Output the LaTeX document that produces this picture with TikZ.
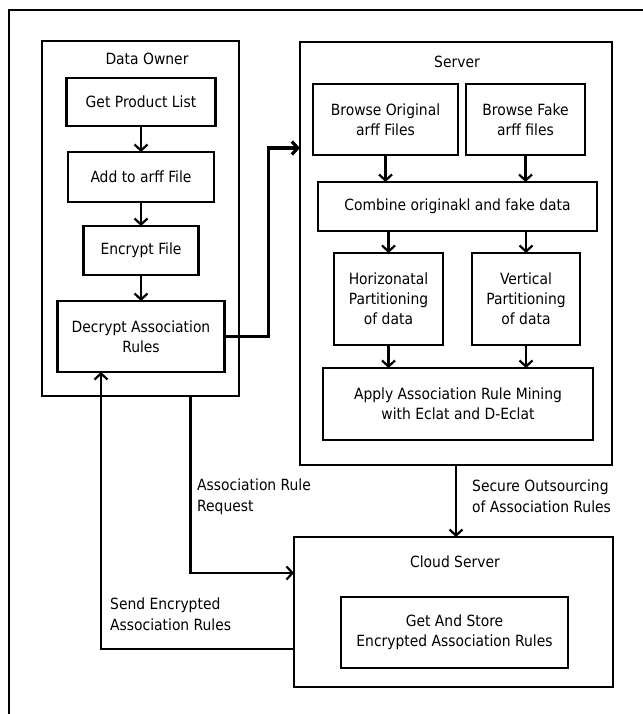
\documentclass[tikz,border=0pt]{standalone}
\usepackage{fontspec}
\setmainfont{DejaVu Sans Condensed}
\usetikzlibrary{positioning,arrows.meta}

\begin{document}
\begin{tikzpicture}[
    x=1bp, y=-1bp,
    node distance=26bp and 8bp,
    font=\fontsize{15.5}{20}\selectfont,
 mybox/.style = {
        draw, rectangle, align=center, line width=2.6bp,
        inner sep=2bp, outer sep=0pt},
 mygroup/.style = {
        draw, rectangle, line width=2.6bp, inner sep=0pt, outer sep=0pt},
 mytitle/.style = {inner sep=0pt},
 mylabel/.style = {
        align=left, inner sep=0pt, anchor=north west,
        font=\fontsize{15.5}{21}\selectfont},
     arrow/.style = {line width=2.2bp,-{Straight Barb[length=6bp,width=13bp]}}
                    ]
\useasboundingbox (0,0) rectangle (643,714);
% the frame round the picture
\draw[line width=2.2bp] (9,740) -- (9,10) -- (670,10);
% the data owner
\node (owner) [mygroup, minimum width=197bp, minimum height=355bp] at (140.5,218.5) {};
\node (towner) [mytitle] at (147,59) {Data Owner};
\node (n1) [mybox, minimum width=149bp, minimum height=48bp] at (141,102) {Get Product List};
\node (n2) [mybox, minimum width=146bp, minimum height=50bp, below=of n1] {Add to arff File};
\node (n3) [mybox, minimum width=115bp, minimum height=49bp, below=24bp of n2] {Encrypt File};
\node (n4) [mybox, minimum width=167bp, minimum height=71bp, below=of n3]
                                    {Decrypt Association\\Rules};
\draw[arrow] (n1) -- (n2);
\draw[arrow] (n2) -- (n3);
\draw[arrow] (n3) -- (n4);
% the server
\node (srv) [mygroup, minimum width=312bp, minimum height=423bp] at (456,253.5) {};
\node (tsrv) [mytitle] at (457,62) {Server};
\node (s1) [mybox, minimum width=145bp, minimum height=71bp] at (385.5,119.5)
                                    {Browse Original\\arff Files};
\node (s2) [mybox, minimum width=119bp, minimum height=71bp, right=of s1]
                                    {Browse Fake\\arff files};
\node (s3) [mybox, minimum width=279bp, minimum height=49bp] at (457.5,206.5)
                                    {Combine originakl and fake data};
\node (s4) [mybox, minimum width=109bp, minimum height=92bp] at (388.5,299)
                                    {Horizonatal\\Partitioning\\of data};
\node (s5) [mybox, minimum width=108bp, minimum height=92bp] at (526,299)
                                    {Vertical\\Partitioning\\of data};
\node (s6) [mybox, minimum width=270bp, minimum height=72bp] at (458,404)
                                    {Apply Association Rule Mining\\with Eclat and D-Eclat};
\draw[arrow] (s1) -- (s1 |- s3.north);
\draw[arrow] (s2) -- (s2 |- s3.north);
\draw[arrow] (s4 |- s3.south) -- (s4);
\draw[arrow] (s5 |- s3.south) -- (s5);
\draw[arrow] (s4) -- (s4 |- s6.north);
\draw[arrow] (s5) -- (s5 |- s6.north);
% the cloud server
\node (cloud) [mygroup, minimum width=319bp, minimum height=150bp] at (453.5,612) {};
\node (tcloud) [mytitle] at (455,562) {Cloud Server};
\node (c1) [mybox, minimum width=227bp, minimum height=71bp] at (454.5,632.5)
                                    {Get And Store\\Encrypted Association Rules};
% lines between the parts
\draw[arrow, line width=3.2bp] (n4.east) -- ++(44,0) |- (srv.west |- 0,148);
\draw[arrow] (srv.south) -- (srv.south |- cloud.north);
\draw[arrow] ([xshift=50bp]owner.south) |- ([yshift=39bp]cloud.west);
\draw[arrow] ([yshift=-37bp]cloud.west) -| ([xshift=-40bp]n4.south);
% the labels on the lines
\node (lreq)  [mylabel] at (197,479) {Association Rule\\Request};
\node (lsend) [mylabel] at (110,598) {Send Encrypted\\Association Rules};
\node (lsec)  [mylabel] at (472,480) {Secure Outsourcing\\of Association Rules};
\end{tikzpicture}
\end{document}
